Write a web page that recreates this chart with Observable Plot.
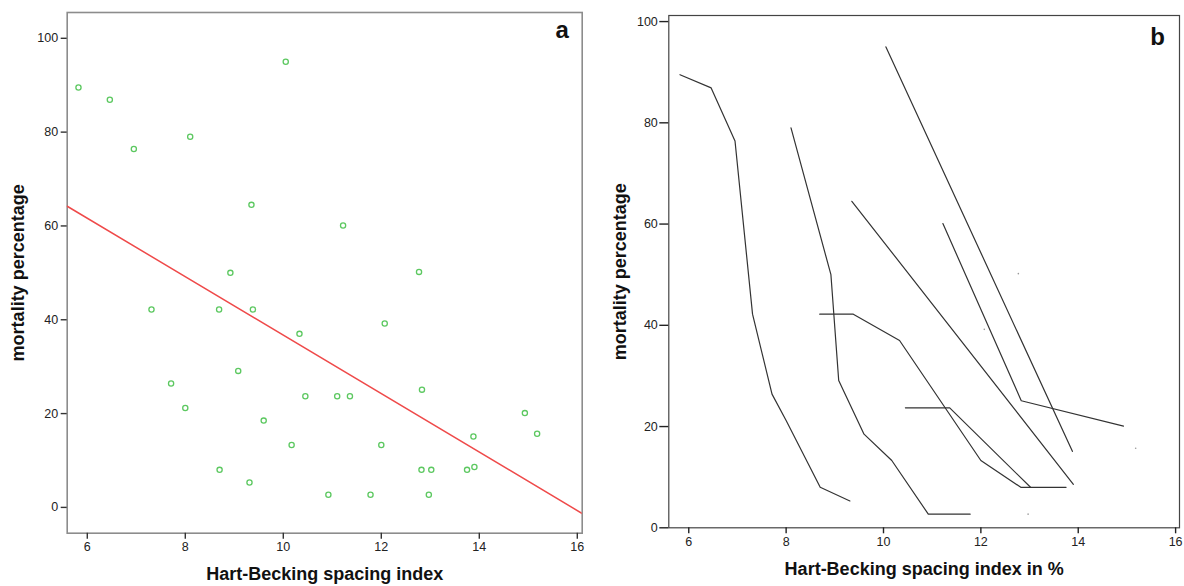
<!DOCTYPE html>
<html><head><meta charset="utf-8">
<script src="https://cdn.jsdelivr.net/npm/d3@7"></script>
<script src="https://cdn.jsdelivr.net/npm/@observablehq/plot@0.6"></script>
<style>
body{margin:0;background:#fff;font-family:"Liberation Sans",Arial,sans-serif;}
#wrap{position:relative;width:1184px;height:586px;overflow:hidden;}
#wrap svg{position:absolute;top:0;}
</style></head><body><div id="wrap"></div>
<script>
// Hart-Becking spacing index (x) and mortality percentage (y), one entry per plot
const spacing   = [5.82, 6.46, 6.95, 7.31, 7.71, 8.00, 8.10, 8.69, 8.70, 8.92, 9.08, 9.31,
                   9.35, 9.38, 9.60, 10.05, 10.17, 10.33, 10.45, 10.92, 11.10, 11.22, 11.36, 11.78,
                   12.00, 12.07, 12.77, 12.82, 12.83, 12.97, 13.02, 13.75, 13.88, 13.90, 14.93, 15.18];
const mortality = [89.5, 86.9, 76.4, 42.2, 26.4, 21.2, 79.0, 42.2, 8.0, 50.0, 29.1, 5.3,
                   64.5, 42.2, 18.5, 95.0, 13.3, 37.0, 23.7, 2.7, 23.7, 60.1, 23.7, 2.7,
                   13.3, 39.2, 50.2, 8.0, 25.1, 2.7, 8.0, 8.0, 15.1, 8.6, 20.1, 15.7];
const stand     = ["A","A","A","A","A","A","B","C","A","B","B","A",
                   "E","C","B","F","B","C","D","B","D","G","D","B",
                   "C","H","I","C","G","J","D","C","F","E","G","K"];
// fitted regression line (panel a), end points
const fitX = [5.59, 16.1];
const fitY = [64.2, -1.3];
const xTicks = [6, 8, 10, 12, 14, 16];
const yTicks = [0, 20, 40, 60, 80, 100];
const xLabelA = "Hart-Becking spacing index";
const xLabelB = "Hart-Becking spacing index in %";
const yLabel = "mortality percentage";
const panelTags = ["a", "b"];

const rows = spacing.map((x, i) => ({x, y: mortality[i], stand: stand[i]}));
const fitRows = fitX.map((x, i) => ({x, y: fitY[i]}));
const counts = d3.rollup(rows, v => v.length, d => d.stand);
const lineRows = rows.filter(d => counts.get(d.stand) > 1).sort((a, b) => a.x - b.x);
const singleRows = rows.filter(d => counts.get(d.stand) === 1);

const style = {fontFamily: '"Liberation Sans", Arial, sans-serif', fontSize: "12.5px", background: "transparent", color: "#222"};

const a = Plot.plot({
  width: 592, height: 586,
  marginLeft: 66.7, marginRight: 10.3, marginTop: 12, marginBottom: 53.3,
  style,
  x: {domain: [5.59, 16.1]},
  y: {domain: [-5.5, 105.5]},
  marks: [
    Plot.frame({stroke: "#8c8c8c", strokeWidth: 1.6}),
    Plot.axisY({ticks: yTicks, tickSize: 6, tickPadding: 3, label: null, line: true, stroke: "#333", strokeWidth: 1.4}),
    Plot.axisX({ticks: xTicks, tickSize: 6, tickPadding: 3, label: null, line: true, stroke: "#333", strokeWidth: 1.4}),
    Plot.line(fitRows, {x: "x", y: "y", stroke: "#ef4a4a", strokeWidth: 1.5, clip: true}),
    Plot.dot(rows, {x: "x", y: "y", r: 2.6, stroke: "#5cc860", strokeWidth: 1.3, fill: "none"}),
    Plot.text([xLabelA], {text: d => d, frameAnchor: "bottom", dy: 47, fontWeight: "bold", fontSize: 18, fill: "#111"}),
    Plot.text([yLabel], {text: d => d, frameAnchor: "left", textAnchor: "middle", lineAnchor: "middle", dx: -48.5, rotate: -90, fontWeight: "bold", fontSize: 18, fill: "#111"}),
    Plot.text([panelTags[0]], {text: d => d, frameAnchor: "top-right", textAnchor: "middle", lineAnchor: "middle", dx: -20, dy: 18, fontWeight: "bold", fontSize: 24, fill: "#111"})
  ]
});
a.style.left = "0px";

const b = Plot.plot({
  width: 584, height: 586,
  marginLeft: 68.3, marginRight: 5, marginTop: 15, marginBottom: 58.7,
  style,
  x: {domain: [5.59, 16.08]},
  y: {domain: [0, 101.2]},
  marks: [
    Plot.frame({stroke: "#444", strokeWidth: 1.2}),
    Plot.axisY({ticks: yTicks, tickSize: 9, tickPadding: 2, label: null, line: true, stroke: "#222", strokeWidth: 1.4}),
    Plot.axisX({ticks: xTicks, tickSize: 6, tickPadding: 3, label: null, line: true, stroke: "#222", strokeWidth: 1.4}),
    Plot.line(lineRows, {x: "x", y: "y", z: "stand", stroke: "#333", strokeWidth: 1.2}),
    Plot.dot(singleRows, {x: "x", y: "y", r: 0.8, fill: "#999"}),
    Plot.text([xLabelB], {text: d => d, frameAnchor: "bottom", dy: 47, fontWeight: "bold", fontSize: 18, fill: "#111"}),
    Plot.text([yLabel], {text: d => d, frameAnchor: "left", textAnchor: "middle", lineAnchor: "middle", dx: -49, rotate: -90, fontWeight: "bold", fontSize: 18, fill: "#111"}),
    Plot.text([panelTags[1]], {text: d => d, frameAnchor: "top-right", textAnchor: "middle", lineAnchor: "middle", dx: -22, dy: 22, fontWeight: "bold", fontSize: 24, fill: "#111"})
  ]
});
b.style.left = "600px";

const wrap = document.getElementById("wrap");
wrap.appendChild(a);
wrap.appendChild(b);
</script>
</body></html>
